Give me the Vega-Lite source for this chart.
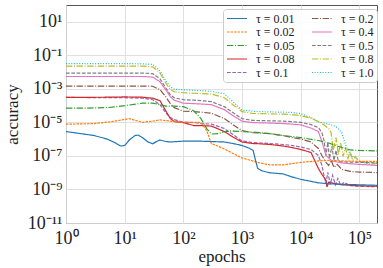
{
"$schema": "https://vega.github.io/schema/vega-lite/v6.json",
"width": 311, "height": 218,
"autosize": {"type": "none"},
"padding": {"left": 66, "top": 5, "right": 6, "bottom": 45},
"background": "white",
"config": {"view": {"stroke": "#555", "strokeWidth": 1},
 "font": "Liberation Serif",
 "axis": {"labelFont": "Liberation Serif", "titleFont": "Liberation Serif", "labelFontSize": 18, "titleFontSize": 17, "titleFontWeight": "normal", "labelColor": "#222", "titleColor": "#222", "domain": false, "ticks": false, "gridColor": "#dcdcdc", "gridWidth": 0.9, "labelFlush": false, "labelOverlap": false}},
"data": {"values": [
{"tau":"1.0","epochs":1,"accuracy":3.21e-2},{"tau":"1.0","epochs":10,"accuracy":3.21e-2},{"tau":"1.0","epochs":20,"accuracy":3.09e-2},{"tau":"1.0","epochs":30,"accuracy":2.88e-2},{"tau":"1.0","epochs":40,"accuracy":1.19e-2},{"tau":"1.0","epochs":50,"accuracy":3.03e-3},{"tau":"1.0","epochs":60,"accuracy":1.33e-3},{"tau":"1.0","epochs":70,"accuracy":9.46e-4},{"tau":"1.0","epochs":100,"accuracy":8.83e-4},{"tau":"1.0","epochs":200,"accuracy":7.71e-4},{"tau":"1.0","epochs":300,"accuracy":7.21e-4},{"tau":"1.0","epochs":500,"accuracy":5.12e-4},{"tau":"1.0","epochs":700,"accuracy":1.72e-4},{"tau":"1.0","epochs":1000,"accuracy":5.37e-5},{"tau":"1.0","epochs":1500,"accuracy":4.69e-5},{"tau":"1.0","epochs":2000,"accuracy":4.38e-5},{"tau":"1.0","epochs":3000,"accuracy":4.2e-5},{"tau":"1.0","epochs":5000,"accuracy":4.08e-5},{"tau":"1.0","epochs":7000,"accuracy":3.92e-5},{"tau":"1.0","epochs":10000,"accuracy":3.33e-5},{"tau":"1.0","epochs":15000,"accuracy":1.93e-5},{"tau":"1.0","epochs":20000,"accuracy":1.11e-5},{"tau":"1.0","epochs":30000,"accuracy":7.92e-6},{"tau":"1.0","epochs":40000,"accuracy":5.64e-6},{"tau":"1.0","epochs":50000,"accuracy":2.48e-6},{"tau":"1.0","epochs":60000,"accuracy":3.33e-7},{"tau":"1.0","epochs":70000,"accuracy":1.23e-7},{"tau":"1.0","epochs":100000,"accuracy":4.72e-8},{"tau":"1.0","epochs":150000,"accuracy":3.13e-8},{"tau":"1.0","epochs":200000,"accuracy":2.73e-8},
{"tau":"0.8","epochs":1,"accuracy":2.25e-2},{"tau":"0.8","epochs":20,"accuracy":2.25e-2},{"tau":"0.8","epochs":30,"accuracy":2.05e-2},{"tau":"0.8","epochs":40,"accuracy":9.02e-3},{"tau":"0.8","epochs":50,"accuracy":2.3e-3},{"tau":"0.8","epochs":60,"accuracy":8.83e-4},{"tau":"0.8","epochs":70,"accuracy":6.73e-4},{"tau":"0.8","epochs":100,"accuracy":5.87e-4},{"tau":"0.8","epochs":150,"accuracy":5.48e-4},{"tau":"0.8","epochs":300,"accuracy":4.91e-4},{"tau":"0.8","epochs":500,"accuracy":2.96e-4},{"tau":"0.8","epochs":700,"accuracy":1.14e-4},{"tau":"0.8","epochs":1000,"accuracy":4.38e-5},{"tau":"0.8","epochs":1500,"accuracy":3.42e-5},{"tau":"0.8","epochs":3000,"accuracy":3.24e-5},{"tau":"0.8","epochs":5000,"accuracy":3.11e-5},{"tau":"0.8","epochs":7000,"accuracy":2.9e-5},{"tau":"0.8","epochs":10000,"accuracy":2.53e-5},{"tau":"0.8","epochs":15000,"accuracy":1.8e-5},{"tau":"0.8","epochs":20000,"accuracy":1.11e-5},{"tau":"0.8","epochs":25000,"accuracy":6.92e-6},{"tau":"0.8","epochs":30000,"accuracy":4.29e-6},{"tau":"0.8","epochs":33000,"accuracy":2.48e-6},{"tau":"0.8","epochs":36000,"accuracy":2.12e-7},{"tau":"0.8","epochs":40000,"accuracy":1.25e-6},{"tau":"0.8","epochs":44000,"accuracy":1.23e-7},{"tau":"0.8","epochs":48000,"accuracy":6.32e-7},{"tau":"0.8","epochs":53000,"accuracy":9.33e-8},{"tau":"0.8","epochs":58000,"accuracy":3.19e-7},{"tau":"0.8","epochs":64000,"accuracy":7.1e-8},{"tau":"0.8","epochs":70000,"accuracy":1.85e-7},{"tau":"0.8","epochs":77000,"accuracy":5.41e-8},{"tau":"0.8","epochs":85000,"accuracy":9.33e-8},{"tau":"0.8","epochs":100000,"accuracy":4.72e-8},{"tau":"0.8","epochs":150000,"accuracy":3.85e-8},{"tau":"0.8","epochs":200000,"accuracy":3.59e-8},
{"tau":"0.5","epochs":1,"accuracy":8.67e-3},{"tau":"0.5","epochs":20,"accuracy":8.67e-3},{"tau":"0.5","epochs":30,"accuracy":8.09e-3},{"tau":"0.5","epochs":40,"accuracy":3.97e-3},{"tau":"0.5","epochs":50,"accuracy":1.16e-3},{"tau":"0.5","epochs":60,"accuracy":4.47e-4},{"tau":"0.5","epochs":70,"accuracy":2.96e-4},{"tau":"0.5","epochs":100,"accuracy":2.25e-4},{"tau":"0.5","epochs":150,"accuracy":2.1e-4},{"tau":"0.5","epochs":200,"accuracy":1.97e-4},{"tau":"0.5","epochs":300,"accuracy":1.72e-4},{"tau":"0.5","epochs":500,"accuracy":8.67e-5},{"tau":"0.5","epochs":700,"accuracy":3.82e-5},{"tau":"0.5","epochs":1000,"accuracy":1.68e-5},{"tau":"0.5","epochs":1500,"accuracy":1.32e-5},{"tau":"0.5","epochs":2000,"accuracy":1.28e-5},{"tau":"0.5","epochs":3000,"accuracy":1.24e-5},{"tau":"0.5","epochs":5000,"accuracy":1.19e-5},{"tau":"0.5","epochs":7000,"accuracy":1.11e-5},{"tau":"0.5","epochs":10000,"accuracy":1.01e-5},{"tau":"0.5","epochs":15000,"accuracy":7.4e-6},{"tau":"0.5","epochs":20000,"accuracy":4.91e-6},{"tau":"0.5","epochs":23000,"accuracy":2.48e-6},{"tau":"0.5","epochs":25000,"accuracy":8.32e-7},{"tau":"0.5","epochs":27000,"accuracy":1.07e-7},{"tau":"0.5","epochs":29000,"accuracy":6.32e-7},{"tau":"0.5","epochs":31000,"accuracy":7.1e-8},{"tau":"0.5","epochs":34000,"accuracy":3.66e-7},{"tau":"0.5","epochs":37000,"accuracy":5.41e-8},{"tau":"0.5","epochs":40000,"accuracy":2.12e-7},{"tau":"0.5","epochs":44000,"accuracy":4.72e-8},{"tau":"0.5","epochs":50000,"accuracy":4.41e-8},{"tau":"0.5","epochs":70000,"accuracy":4.28e-8},{"tau":"0.5","epochs":100000,"accuracy":4.11e-8},{"tau":"0.5","epochs":200000,"accuracy":3.85e-8},
{"tau":"0.4","epochs":1,"accuracy":5.45e-3},{"tau":"0.4","epochs":20,"accuracy":5.45e-3},{"tau":"0.4","epochs":30,"accuracy":5.01e-3},{"tau":"0.4","epochs":40,"accuracy":2.64e-3},{"tau":"0.4","epochs":50,"accuracy":8.83e-4},{"tau":"0.4","epochs":60,"accuracy":3.4e-4},{"tau":"0.4","epochs":70,"accuracy":2.1e-4},{"tau":"0.4","epochs":100,"accuracy":1.4e-4},{"tau":"0.4","epochs":150,"accuracy":1.31e-4},{"tau":"0.4","epochs":200,"accuracy":1.25e-4},{"tau":"0.4","epochs":300,"accuracy":1.14e-4},{"tau":"0.4","epochs":500,"accuracy":5.75e-5},{"tau":"0.4","epochs":700,"accuracy":2.53e-5},{"tau":"0.4","epochs":1000,"accuracy":1.19e-5},{"tau":"0.4","epochs":1500,"accuracy":9.73e-6},{"tau":"0.4","epochs":2000,"accuracy":9.46e-6},{"tau":"0.4","epochs":3000,"accuracy":9.1e-6},{"tau":"0.4","epochs":5000,"accuracy":8.49e-6},{"tau":"0.4","epochs":7000,"accuracy":7.92e-6},{"tau":"0.4","epochs":10000,"accuracy":7.11e-6},{"tau":"0.4","epochs":15000,"accuracy":4.59e-6},{"tau":"0.4","epochs":20000,"accuracy":2.84e-6},{"tau":"0.4","epochs":23000,"accuracy":7.26e-7},{"tau":"0.4","epochs":27000,"accuracy":1.07e-7},{"tau":"0.4","epochs":34000,"accuracy":5.05e-8},{"tau":"0.4","epochs":50000,"accuracy":3.85e-8},{"tau":"0.4","epochs":70000,"accuracy":3.44e-8},{"tau":"0.4","epochs":100000,"accuracy":3.13e-8},{"tau":"0.4","epochs":200000,"accuracy":2.73e-8},
{"tau":"0.2","epochs":1,"accuracy":1.47e-3},{"tau":"0.2","epochs":20,"accuracy":1.47e-3},{"tau":"0.2","epochs":30,"accuracy":1.43e-3},{"tau":"0.2","epochs":40,"accuracy":8.83e-4},{"tau":"0.2","epochs":50,"accuracy":3.4e-4},{"tau":"0.2","epochs":60,"accuracy":1.31e-4},{"tau":"0.2","epochs":70,"accuracy":7.55e-5},{"tau":"0.2","epochs":100,"accuracy":4.69e-5},{"tau":"0.2","epochs":150,"accuracy":4.38e-5},{"tau":"0.2","epochs":200,"accuracy":4.08e-5},{"tau":"0.2","epochs":300,"accuracy":3.53e-5},{"tau":"0.2","epochs":500,"accuracy":1.68e-5},{"tau":"0.2","epochs":700,"accuracy":7.4e-6},{"tau":"0.2","epochs":1000,"accuracy":3.26e-6},{"tau":"0.2","epochs":1500,"accuracy":2.48e-6},{"tau":"0.2","epochs":2000,"accuracy":2.32e-6},{"tau":"0.2","epochs":3000,"accuracy":2.1e-6},{"tau":"0.2","epochs":5000,"accuracy":1.65e-6},{"tau":"0.2","epochs":7000,"accuracy":1.25e-6},{"tau":"0.2","epochs":10000,"accuracy":1.02e-6},{"tau":"0.2","epochs":15000,"accuracy":6.78e-7},{"tau":"0.2","epochs":20000,"accuracy":2.79e-7},{"tau":"0.2","epochs":23000,"accuracy":1.07e-7},{"tau":"0.2","epochs":27000,"accuracy":4.11e-8},{"tau":"0.2","epochs":30000,"accuracy":2.73e-8},{"tau":"0.2","epochs":33000,"accuracy":5.41e-8},{"tau":"0.2","epochs":37000,"accuracy":2.08e-8},{"tau":"0.2","epochs":42000,"accuracy":3.13e-8},{"tau":"0.2","epochs":50000,"accuracy":1.58e-8},{"tau":"0.2","epochs":70000,"accuracy":1.2e-8},{"tau":"0.2","epochs":100000,"accuracy":1.09e-8},{"tau":"0.2","epochs":200000,"accuracy":1.01e-8},
{"tau":"0.1","epochs":1,"accuracy":3.08e-4},{"tau":"0.1","epochs":10,"accuracy":2.96e-4},{"tau":"0.1","epochs":20,"accuracy":2.77e-4},{"tau":"0.1","epochs":30,"accuracy":2.25e-4},{"tau":"0.1","epochs":40,"accuracy":1.14e-4},{"tau":"0.1","epochs":50,"accuracy":3.82e-5},{"tau":"0.1","epochs":60,"accuracy":1.93e-5},{"tau":"0.1","epochs":70,"accuracy":1.47e-5},{"tau":"0.1","epochs":100,"accuracy":1.04e-5},{"tau":"0.1","epochs":150,"accuracy":9.73e-6},{"tau":"0.1","epochs":200,"accuracy":8.49e-6},{"tau":"0.1","epochs":300,"accuracy":7.92e-6},{"tau":"0.1","epochs":500,"accuracy":4.29e-6},{"tau":"0.1","epochs":700,"accuracy":1.89e-6},{"tau":"0.1","epochs":1000,"accuracy":7.77e-7},{"tau":"0.1","epochs":1500,"accuracy":6.32e-7},{"tau":"0.1","epochs":2000,"accuracy":5.91e-7},{"tau":"0.1","epochs":3000,"accuracy":5.52e-7},{"tau":"0.1","epochs":5000,"accuracy":4.81e-7},{"tau":"0.1","epochs":7000,"accuracy":4.2e-7},{"tau":"0.1","epochs":10000,"accuracy":3.42e-7},{"tau":"0.1","epochs":15000,"accuracy":2.43e-7},{"tau":"0.1","epochs":20000,"accuracy":1.07e-7},{"tau":"0.1","epochs":23000,"accuracy":2.73e-8},{"tau":"0.1","epochs":25000,"accuracy":6.97e-9},{"tau":"0.1","epochs":27000,"accuracy":2.33e-9},{"tau":"0.1","epochs":29000,"accuracy":1.05e-8},{"tau":"0.1","epochs":32000,"accuracy":2.03e-9},{"tau":"0.1","epochs":35000,"accuracy":6.97e-9},{"tau":"0.1","epochs":39000,"accuracy":1.9e-9},{"tau":"0.1","epochs":43000,"accuracy":4.62e-9},{"tau":"0.1","epochs":48000,"accuracy":1.77e-9},{"tau":"0.1","epochs":55000,"accuracy":2.67e-9},{"tau":"0.1","epochs":70000,"accuracy":1.66e-9},{"tau":"0.1","epochs":100000,"accuracy":1.55e-9},{"tau":"0.1","epochs":200000,"accuracy":1.45e-9},
{"tau":"0.08","epochs":1,"accuracy":3.08e-4},{"tau":"0.08","epochs":5,"accuracy":3.17e-4},{"tau":"0.08","epochs":10,"accuracy":3.3e-4},{"tau":"0.08","epochs":20,"accuracy":3.17e-4},{"tau":"0.08","epochs":30,"accuracy":2.77e-4},{"tau":"0.08","epochs":40,"accuracy":1.97e-4},{"tau":"0.08","epochs":50,"accuracy":5.01e-5},{"tau":"0.08","epochs":60,"accuracy":1.68e-5},{"tau":"0.08","epochs":70,"accuracy":1.11e-5},{"tau":"0.08","epochs":100,"accuracy":9.73e-6},{"tau":"0.08","epochs":150,"accuracy":6.46e-6},{"tau":"0.08","epochs":200,"accuracy":6.46e-6},{"tau":"0.08","epochs":300,"accuracy":6.03e-6},{"tau":"0.08","epochs":500,"accuracy":2.84e-6},{"tau":"0.08","epochs":700,"accuracy":1.34e-6},{"tau":"0.08","epochs":1000,"accuracy":6.78e-7},{"tau":"0.08","epochs":1500,"accuracy":5.52e-7},{"tau":"0.08","epochs":2000,"accuracy":5.3e-7},{"tau":"0.08","epochs":3000,"accuracy":4.81e-7},{"tau":"0.08","epochs":5000,"accuracy":3.92e-7},{"tau":"0.08","epochs":7000,"accuracy":3.19e-7},{"tau":"0.08","epochs":10000,"accuracy":2.43e-7},{"tau":"0.08","epochs":15000,"accuracy":1.61e-7},{"tau":"0.08","epochs":20000,"accuracy":1.81e-8},{"tau":"0.08","epochs":23000,"accuracy":7.98e-9},{"tau":"0.08","epochs":27000,"accuracy":3.52e-9},{"tau":"0.08","epochs":28000,"accuracy":1.4e-9},{"tau":"0.08","epochs":30000,"accuracy":2.67e-9},{"tau":"0.08","epochs":40000,"accuracy":2.18e-9},{"tau":"0.08","epochs":50000,"accuracy":1.9e-9},{"tau":"0.08","epochs":70000,"accuracy":1.77e-9},{"tau":"0.08","epochs":100000,"accuracy":1.66e-9},{"tau":"0.08","epochs":200000,"accuracy":1.55e-9},
{"tau":"0.05","epochs":1,"accuracy":7.06e-5},{"tau":"0.05","epochs":2,"accuracy":7.06e-5},{"tau":"0.05","epochs":5,"accuracy":7.55e-5},{"tau":"0.05","epochs":10,"accuracy":9.93e-5},{"tau":"0.05","epochs":20,"accuracy":1.4e-4},{"tau":"0.05","epochs":30,"accuracy":1.4e-4},{"tau":"0.05","epochs":40,"accuracy":1.14e-4},{"tau":"0.05","epochs":50,"accuracy":9.29e-5},{"tau":"0.05","epochs":70,"accuracy":9.29e-5},{"tau":"0.05","epochs":100,"accuracy":8.67e-5},{"tau":"0.05","epochs":150,"accuracy":5.01e-5},{"tau":"0.05","epochs":200,"accuracy":1.68e-5},{"tau":"0.05","epochs":250,"accuracy":4.29e-6},{"tau":"0.05","epochs":300,"accuracy":2.02e-6},{"tau":"0.05","epochs":400,"accuracy":2.16e-6},{"tau":"0.05","epochs":500,"accuracy":2.84e-6},{"tau":"0.05","epochs":700,"accuracy":3.05e-6},{"tau":"0.05","epochs":1000,"accuracy":2.84e-6},{"tau":"0.05","epochs":2000,"accuracy":2.48e-6},{"tau":"0.05","epochs":3000,"accuracy":2.16e-6},{"tau":"0.05","epochs":5000,"accuracy":1.65e-6},{"tau":"0.05","epochs":10000,"accuracy":1.25e-6},{"tau":"0.05","epochs":20000,"accuracy":8.32e-7},{"tau":"0.05","epochs":30000,"accuracy":5.91e-7},{"tau":"0.05","epochs":50000,"accuracy":3.19e-7},{"tau":"0.05","epochs":70000,"accuracy":2.27e-7},{"tau":"0.05","epochs":100000,"accuracy":2.12e-7},{"tau":"0.05","epochs":200000,"accuracy":1.98e-7},
{"tau":"0.02","epochs":1,"accuracy":7.8e-6},{"tau":"0.02","epochs":3,"accuracy":8.49e-6},{"tau":"0.02","epochs":6,"accuracy":1.11e-5},{"tau":"0.02","epochs":12,"accuracy":1.68e-5},{"tau":"0.02","epochs":20,"accuracy":1.01e-5},{"tau":"0.02","epochs":30,"accuracy":1.19e-5},{"tau":"0.02","epochs":40,"accuracy":1.41e-5},{"tau":"0.02","epochs":60,"accuracy":1.19e-5},{"tau":"0.02","epochs":100,"accuracy":1.01e-5},{"tau":"0.02","epochs":150,"accuracy":1.01e-5},{"tau":"0.02","epochs":200,"accuracy":9.73e-6},{"tau":"0.02","epochs":250,"accuracy":3.26e-6},{"tau":"0.02","epochs":300,"accuracy":5.52e-7},{"tau":"0.02","epochs":400,"accuracy":3.66e-7},{"tau":"0.02","epochs":500,"accuracy":2.6e-7},{"tau":"0.02","epochs":700,"accuracy":1.41e-7},{"tau":"0.02","epochs":1000,"accuracy":7.6e-8},{"tau":"0.02","epochs":1500,"accuracy":5.05e-8},{"tau":"0.02","epochs":2000,"accuracy":3.85e-8},{"tau":"0.02","epochs":3000,"accuracy":2.92e-8},{"tau":"0.02","epochs":5000,"accuracy":2.92e-8},{"tau":"0.02","epochs":10000,"accuracy":4.11e-8},{"tau":"0.02","epochs":20000,"accuracy":5.05e-8},{"tau":"0.02","epochs":30000,"accuracy":5.41e-8},{"tau":"0.02","epochs":50000,"accuracy":5.05e-8},{"tau":"0.02","epochs":100000,"accuracy":4.72e-8},{"tau":"0.02","epochs":200000,"accuracy":4.72e-8},
{"tau":"0.01","epochs":1,"accuracy":2.84e-6},{"tau":"0.01","epochs":2,"accuracy":2.02e-6},{"tau":"0.01","epochs":3,"accuracy":1.65e-6},{"tau":"0.01","epochs":5,"accuracy":1.02e-6},{"tau":"0.01","epochs":7,"accuracy":5.91e-7},{"tau":"0.01","epochs":8.5,"accuracy":3.92e-7},{"tau":"0.01","epochs":10,"accuracy":4.2e-7},{"tau":"0.01","epochs":12,"accuracy":8.91e-7},{"tau":"0.01","epochs":15,"accuracy":1.65e-6},{"tau":"0.01","epochs":17,"accuracy":1.72e-6},{"tau":"0.01","epochs":20,"accuracy":1.25e-6},{"tau":"0.01","epochs":25,"accuracy":6.78e-7},{"tau":"0.01","epochs":30,"accuracy":5.3e-7},{"tau":"0.01","epochs":35,"accuracy":7.26e-7},{"tau":"0.01","epochs":40,"accuracy":8.91e-7},{"tau":"0.01","epochs":50,"accuracy":7.26e-7},{"tau":"0.01","epochs":60,"accuracy":6.78e-7},{"tau":"0.01","epochs":80,"accuracy":7.26e-7},{"tau":"0.01","epochs":100,"accuracy":7.56e-7},{"tau":"0.01","epochs":200,"accuracy":7.56e-7},{"tau":"0.01","epochs":500,"accuracy":6.78e-7},{"tau":"0.01","epochs":700,"accuracy":5.52e-7},{"tau":"0.01","epochs":1000,"accuracy":4.2e-7},{"tau":"0.01","epochs":1300,"accuracy":2.99e-7},{"tau":"0.01","epochs":1550,"accuracy":2.12e-7},{"tau":"0.01","epochs":1700,"accuracy":5.41e-8},{"tau":"0.01","epochs":1850,"accuracy":1.81e-8},{"tau":"0.01","epochs":2200,"accuracy":1.29e-8},{"tau":"0.01","epochs":3000,"accuracy":9.8e-9},{"tau":"0.01","epochs":5000,"accuracy":8.55e-9},{"tau":"0.01","epochs":7000,"accuracy":5.67e-9},{"tau":"0.01","epochs":10000,"accuracy":4.03e-9},{"tau":"0.01","epochs":15000,"accuracy":3.06e-9},{"tau":"0.01","epochs":20000,"accuracy":2.49e-9},{"tau":"0.01","epochs":30000,"accuracy":2.18e-9},{"tau":"0.01","epochs":50000,"accuracy":2.03e-9},{"tau":"0.01","epochs":100000,"accuracy":1.9e-9},{"tau":"0.01","epochs":200000,"accuracy":1.77e-9}
]},
"mark": {"type": "line", "strokeWidth": 1.2, "clip": true},
"encoding": {
 "x": {"field": "epochs", "type": "quantitative", "scale": {"type": "log", "domain": [1, 200000], "nice": false},
  "axis": {"title": "epochs", "values": [1, 10, 100, 1000, 10000, 100000], "grid": true, "labelPadding": 6, "titlePadding": 1,
   "labelExpr": "'10' + substring('⁰¹²³⁴⁵⁶⁷⁸⁹', round(log(datum.value)/LN10), round(log(datum.value)/LN10)+1)"}},
 "y": {"field": "accuracy", "type": "quantitative", "scale": {"type": "log", "domain": [1e-11, 100], "nice": false},
  "axis": {"title": "accuracy", "values": [10, 0.1, 0.001, 1e-5, 1e-7, 1e-9, 1e-11], "grid": true, "labelPadding": 4, "titlePadding": 6,
   "labelExpr": "datum.value >= 1 ? '10¹' : ('10⁻' + (round(-log(datum.value)/LN10) >= 10 ? '¹' : '') + substring('⁰¹²³⁴⁵⁶⁷⁸⁹', round(-log(datum.value)/LN10) % 10, round(-log(datum.value)/LN10) % 10 + 1))"}},
 "color": {"field": "tau", "type": "nominal",
  "scale": {"domain": ["0.01","0.02","0.05","0.08","0.1","0.2","0.4","0.5","0.8","1.0"],
   "range": ["#1f77b4","#ff7f0e","#2ca02c","#d62728","#9467bd","#8c564b","#e377c2","#7f7f7f","#bcbd22","#17becf"]},
  "legend": {"title": null, "orient": "none", "legendX": 157, "legendY": 4, "columns": 2, "symbolType": "stroke", "symbolSize": 400, "symbolStrokeWidth": 1.2, "clipHeight": 13,
   "labelFont": "Liberation Serif", "labelFontSize": 12, "labelColor": "#222", "labelExpr": "'τ = ' + datum.label",
   "fillColor": "rgba(255,255,255,0.85)", "strokeColor": "#ccc", "cornerRadius": 3, "padding": 3, "rowPadding": 0.5, "columnPadding": 16, "labelOffset": 8}},
 "strokeDash": {"field": "tau", "type": "nominal",
  "scale": {"domain": ["0.01","0.02","0.05","0.08","0.1","0.2","0.4","0.5","0.8","1.0"],
   "range": [[1,0],[2.5,1],[6.4,1.6,1,1.6],[1,0],[3.7,1.6],[6.4,1.6,1,1.6],[1,0],[3.7,1.6],[6.4,1.6,1,1.6],[1,1.65]]},
  "legend": {"title": null}}
}
}
